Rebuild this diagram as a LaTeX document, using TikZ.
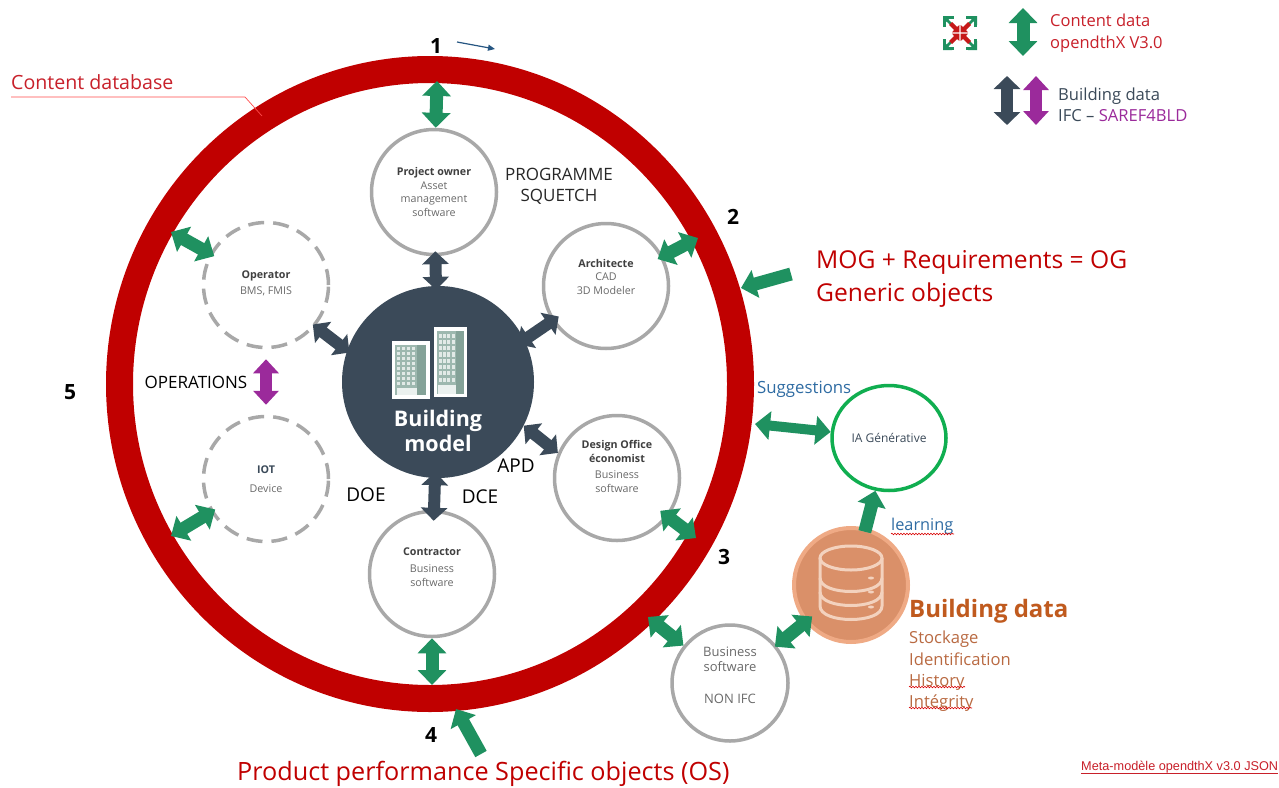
\documentclass[tikz,border=0pt]{standalone}
\usepackage{fontspec}
\setmainfont{Open Sans}
\newfontfamily\arialfam{Liberation Sans}
\usetikzlibrary{arrows.meta,shapes.geometric,decorations.pathmorphing}
\definecolor{ringred}{HTML}{C00000}
\definecolor{txtred}{HTML}{C8202A}
\definecolor{gcol}{HTML}{1F9160}
\definecolor{dcol}{HTML}{3B4A59}
\definecolor{pcol}{HTML}{9B2A9B}
\definecolor{grey}{HTML}{A8A8A8}
\definecolor{txtdark}{HTML}{404040}
\definecolor{txtgrey}{HTML}{6A6A6A}
\definecolor{blu}{HTML}{2F6CA3}
\definecolor{orng}{HTML}{C05A1E}
\definecolor{orng2}{HTML}{B96A42}
\definecolor{dbfill}{HTML}{DA9069}
\definecolor{dbedge}{HTML}{EFAA85}
\definecolor{dbline}{HTML}{F3D2BE}
\definecolor{bldg}{HTML}{9DB8AF}
\definecolor{bldgd}{HTML}{84A298}
\definecolor{iagreen}{HTML}{10AE50}
\newcommand{\fnt}[2]{\fontsize{#1}{#2}\selectfont}
\newcommand{\hd}[1]{{\bfseries\color{txtdark}#1}}
\newcommand{\building}[4]{% x0 y0 width height
  \fill[bldg] (#1,#2) rectangle ++(#3,#4);
  \fill[bldgd] ({#1+#3*0.72},#2) rectangle ++({#3*0.28},#4);
  \fill[white!80!bldg] ({#1+#3*0.05},{#2+#4*0.86}) rectangle ({#1+#3*0.72},{#2+#4});
  \foreach \i in {0,...,3}{\foreach \j in {0,...,7}{
    \fill[white!70!bldg] ({#1+#3*(0.06+0.16*\i)},{#2+#4*(0.04+0.10*\j)}) rectangle ++({#3*0.11},{#4*0.065});
  }}
}
\tikzset{
  greenarrow/.style={draw=gcol,line width=13pt,arrows={Triangle[width=28pt,length=15pt]-Triangle[width=28pt,length=15pt]}},
  darkarrow/.style={draw=dcol,line width=12pt,arrows={Triangle[width=26pt,length=13pt]-Triangle[width=26pt,length=13pt]}},
  purplearrow/.style={draw=pcol,line width=12pt,arrows={Triangle[width=25pt,length=14pt]-Triangle[width=25pt,length=14pt]}},
  greensingle/.style={draw=gcol,line width=13pt,arrows={-Triangle[width=28pt,length=15pt]}},
  actor/.style={circle,draw=grey,line width=3.5pt,minimum size=125pt,inner sep=0pt,align=center,text=txtgrey,font=\fnt{10.7}{13.5}},
  ghost/.style={actor,dashed,dash pattern=on 16pt off 9pt},
  lbl/.style={inner sep=0pt,anchor=west},
  cen/.style={inner sep=0pt,align=center},
  num/.style={inner sep=0pt,font=\bfseries\fnt{21}{24},text=black},
  wavy/.style={draw=red!85!black,line width=.6pt,decorate,decoration={snake,amplitude=.8pt,segment length=3pt}},
}
\begin{document}
\begin{tikzpicture}[x=1pt,y=-1pt]
\useasboundingbox (0,0) rectangle (1279,787);
\fill[white] (0,0) rectangle (1279,787);

% ring
\node[ellipse,draw=ringred,line width=27pt,minimum width=621pt,minimum height=629pt,inner sep=0pt] (ring) at (430,384) {};

% central model
\node[circle,fill=dcol,minimum size=192pt,inner sep=0pt] (bm) at (438,382) {};
\fill[white] (392,341) rectangle (430,399);
\fill[white] (434,327) rectangle (467,397);
\building{395}{345}{31}{50}
\building{437}{331}{27}{63}
\node[cen,text=white,font=\bfseries\fnt{21.5}{25}] (bmt) at (438,431) {Building\\model};

% actors
\node[actor] (po) at (434,192) {\hd{Project owner}\\Asset\\management\\software};
\node[actor] (arch) at (606,286) {\hd{Architecte}\\CAD\\3D Modeler\\[5pt]\mbox{}};
\node[actor] (da) at (617,478) {\hd{Design Office}\\\hd{économist}\\[3pt]Business\\software\\[10pt]\mbox{}};
\node[actor] (con) at (432,574) {\hd{Contractor}\\[4pt]Business\\software\\[1pt]\mbox{}};
\node[ghost] (op) at (266,285) {\mbox{}\\[-9.5pt]\hd{Operator}\\[3pt]BMS, FMIS};
\node[ghost] (iot) at (266,479) {{\bfseries\color{dcol}IOT}\\[5pt]Device};
\node[actor,minimum size=116pt,font=\fnt{13}{15}] (bs) at (730,683) {Business\\software\\[17pt]NON IFC\\[1pt]\mbox{}};
\node[ellipse,draw=iagreen,line width=3.5pt,minimum width=114pt,minimum height=105pt,inner sep=0pt,text=dcol,font=\fnt{12}{13}] (ia) at (889,438) {IA Générative};

% database
\node[circle,fill=dbfill,draw=dbedge,line width=4pt,minimum size=114pt,inner sep=0pt] (db) at (851,585) {};
\begin{scope}[draw=dbline,line width=3pt]
  \draw (851,558) ellipse [x radius=31pt,y radius=12pt];
  \draw (820,558) -- (820,606) .. controls (820,624) and (882,624) .. (882,606) -- (882,558);
  \draw (820,578) .. controls (820,596) and (882,596) .. (882,578);
  \draw (820,592) .. controls (820,610) and (882,610) .. (882,592);
\end{scope}
\foreach \yy in {578,592,607} \fill[dbline] (871,\yy) ellipse [x radius=3pt,y radius=1.5pt];

% ring end coordinates
\coordinate (r1) at (437,81);
\coordinate (r2) at (698,238);
\coordinate (r3) at (696,538);
\coordinate (r4) at (432,685);
\coordinate (r5) at (171,232);
\coordinate (r6) at (171,536);
\coordinate (r7) at (648,617);
\coordinate (r8) at (755,424);
\coordinate (r9) at (741,288);
\coordinate (r10) at (456,709);
\coordinate (mogs) at (791,274);
\coordinate (prods) at (481,754);

% building data arrows
\draw[darkarrow,shorten <=-4pt,shorten >=-5pt] (bm) -- (po);
\draw[darkarrow,shorten <=-8pt,shorten >=-8pt] (bm.26) -- (arch.-147);
\draw[darkarrow] (bm.-27) -- (da.157);
\draw[darkarrow,shorten <=-6pt,shorten >=-11pt] (bm) -- (con);
\draw[darkarrow,shorten <=-3pt,shorten >=-3pt] (bm.161) -- (op.-40);
\draw[purplearrow,shorten <=10pt,shorten >=10pt] (op) -- (iot);

% content data arrows
\draw[greenarrow] (r1) -- (po);
\draw[greenarrow,shorten >=-6pt] (r2) -- (arch);
\draw[greenarrow,shorten >=-10pt] (r3) -- (da);
\draw[greenarrow] (con) -- (r4);
\draw[greenarrow,shorten >=-5pt] (r5) -- (op);
\draw[greenarrow,shorten >=-5pt] (r6) -- (iot);
\draw[greenarrow] (r7) -- (bs);
\draw[greenarrow,shorten <=-9pt,shorten >=-2pt] (db) -- (bs);
\draw[greenarrow,line width=10pt] (r8) -- (ia);
\draw[greensingle] (mogs) -- (r9);
\draw[greensingle] (prods) -- (r10);
\draw[greensingle,shorten <=-4pt] (db) -- (ia);

% numbers
\node[num] (n1) at (436,46) {1};
\node[num] (n2) at (733,217) {2};
\node[num] (n3) at (724,557) {3};
\node[num] (n4) at (431,735) {4};
\node[num] (n5) at (70,392) {5};
\coordinate (nfrom) at (457,42);
\coordinate (nto) at (495,49);
\draw[draw=blu!80!black,line width=1.2pt,-{Triangle[width=6pt,length=7pt]}] (nfrom) -- (nto);

% labels
\node[lbl,text=txtred,font=\fnt{19.6}{22}] (cdb) at (11,82) {Content database};
\coordinate (lead1) at (11,97);
\coordinate (lead2) at (245,97);
\coordinate (lead3) at (262,116);
\draw[draw=red!70!white,line width=.7pt] (lead1) -- (lead2) -- (lead3);
\node[cen,text=txtdark!60!black,font=\fnt{17}{21}] (prog) at (559,186) {PROGRAMME\\SQUETCH};
\node[cen,text=black,font=\fnt{17}{18}] (oper) at (196,382) {OPERATIONS};
\node[cen,text=black,font=\fnt{19}{20}] (doe) at (366,495) {DOE};
\node[cen,text=black,font=\fnt{19}{20}] (dce) at (480,497) {DCE};
\node[cen,text=black,font=\fnt{19}{20}] (apd) at (516,466) {APD};
\node[lbl,text=ringred,font=\fnt{24.6}{33},align=left] (mog) at (816,279) {MOG + Requirements = OG\\Generic objects};
\node[lbl,text=blu,font=\fnt{16.8}{18}] (sug) at (757,389) {Suggestions};
\node[lbl,text=blu,font=\fnt{16.3}{18}] (lea) at (891,526) {learning};
\node[lbl,text=orng,font=\bfseries\fnt{24}{26}] (bd) at (909,611) {Building data};
\node[lbl,text=orng2,font=\fnt{16.6}{21.3},align=left,anchor=north west] (bdl) at (909,631) {Stockage\\Identification\\History\\Intégrity};
\node[lbl,text=ringred,font=\fnt{25.2}{27}] (prod) at (237,774) {Product performance Specific objects (OS)};
\node[lbl,text=txtred,font=\arialfam\fnt{12.7}{13}] (meta) at (1081,767) {Meta-modèle opendthX v3.0 JSON};
\coordinate (ul1) at (1081,773);
\coordinate (ul2) at (1278,773);
\draw[draw=txtred,line width=.5pt] (ul1) -- (ul2);
\coordinate (w1a) at (891,534); \coordinate (w1b) at (954,534);
\coordinate (w2a) at (909,687); \coordinate (w2b) at (965,687);
\coordinate (w3a) at (909,708); \coordinate (w3b) at (972,708);
\draw[wavy] (w1a) -- (w1b);
\draw[wavy] (w2a) -- (w2b);
\draw[wavy] (w3a) -- (w3b);

% legend
\coordinate (lg1) at (1023,8); \coordinate (lg2) at (1023,56);
\draw[greenarrow] (lg1) -- (lg2);
\coordinate (ld1) at (1007,76); \coordinate (ld2) at (1007,125);
\draw[darkarrow] (ld1) -- (ld2);
\coordinate (lp1) at (1036,76); \coordinate (lp2) at (1036,125);
\draw[purplearrow] (lp1) -- (lp2);
\node[lbl,text=txtred,font=\fnt{16.5}{22},align=left] (lgc) at (1050,33.5) {Content data\\opendthX V3.0};
\node[lbl,text=dcol,font=\fnt{16.6}{21},align=left] (lgb) at (1058,104.5) {Building data\\IFC -- \textcolor{pcol}{SAREF4BLD}};

% legend icon
\begin{scope}[shift={(960,33)}]
  \foreach \sx/\sy in {1/1,1/-1,-1/1,-1/-1}{
    \draw[gcol,line width=3.4pt] ({\sx*15.5},{\sy*6}) -- ({\sx*15.5},{\sy*15.5}) -- ({\sx*6},{\sy*15.5});
    \fill[gcol] ({\sx*17},{\sy*17}) -- ({\sx*17},{\sy*8}) -- ({\sx*8},{\sy*17}) -- cycle;
    \draw[gcol,line width=2.6pt] ({\sx*15},{\sy*15}) -- ({\sx*9},{\sy*9});
    \fill[red!75!black!90!white] ({\sx*0.6},{\sy*0.6}) -- ({\sx*8},{\sy*0.6}) -- ({\sx*6},{\sy*3}) -- ({\sx*11},{\sy*8}) -- ({\sx*8},{\sy*11}) -- ({\sx*3},{\sy*6}) -- ({\sx*0.6},{\sy*8}) -- cycle;
  }
\end{scope}
\end{tikzpicture}
\end{document}
